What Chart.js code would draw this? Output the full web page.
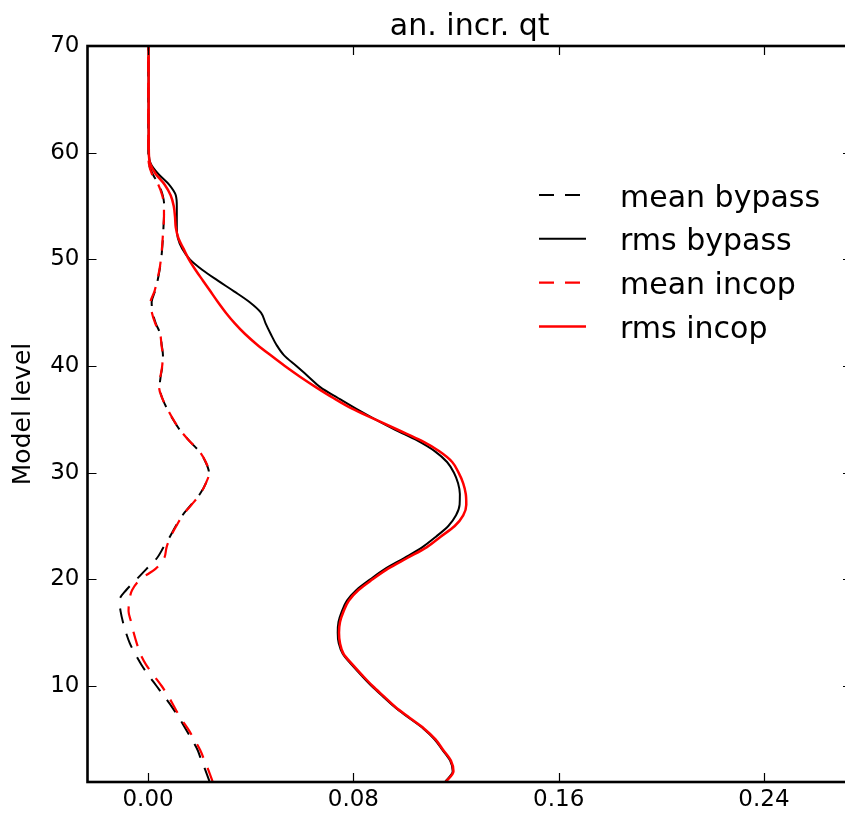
<!DOCTYPE html>
<html>
<head>
<meta charset="utf-8">
<title>an. incr. qt</title>
<script src="https://cdn.jsdelivr.net/npm/chart.js@4.4.1/dist/chart.umd.min.js"></script>
<style>
  html, body { margin: 0; padding: 0; background: #fff; overflow: hidden; }
  canvas { display: block; }
</style>
</head>
<body>
<canvas id="chart" width="862" height="816"></canvas>
<script>
// ================================
// DATA
// ================================

const chartTitle = 'an. incr. qt';
const yAxisTitle = 'Model level';
const seriesLabels = ['mean bypass', 'rms bypass', 'mean incop', 'rms incop'];

const levels = [
  1, 2, 3, 4, 5, 6, 7, 8, 9, 10,
  11, 12, 13, 14, 15, 16, 17, 18, 19, 20,
  21, 22, 23, 24, 25, 26, 27, 28, 29, 30,
  31, 32, 33, 34, 35, 36, 37, 38, 39, 40,
  41, 42, 43, 44, 45, 46, 47, 48, 49, 50,
  51, 52, 53, 54, 55, 56, 57, 58, 59, 60,
  65, 70
];

const meanBypass = [
  0.0240, 0.0225, 0.0208, 0.0193, 0.0170, 0.0146, 0.0121, 0.0094, 0.0064, 0.0033,
  0.0002, -0.0026, -0.0050, -0.0071, -0.0086, -0.0098, -0.0107, -0.0112, -0.0085, -0.0045,
  -0.0005, 0.0035, 0.0060, 0.0085, 0.0108, 0.0134, 0.0168, 0.0202, 0.0225, 0.0237,
  0.0224, 0.0199, 0.0160, 0.0124, 0.0097, 0.0074, 0.0055, 0.0045, 0.0049, 0.0056,
  0.0058, 0.0053, 0.0048, 0.0030, 0.0018, 0.0014, 0.0027, 0.0037, 0.0045, 0.0051,
  0.0055, 0.0058, 0.0060, 0.0062, 0.0063, 0.0057, 0.0042, 0.0018, 0.0003, 0.0001,
  0.0001, 0.0001
];

const rmsBypass = [
  0.1157, 0.1187, 0.1177, 0.1147, 0.1116, 0.1073, 0.1017, 0.0962, 0.0916, 0.0871,
  0.0831, 0.0793, 0.0759, 0.0743, 0.0739, 0.0742, 0.0755, 0.0775, 0.0812, 0.0866,
  0.0925, 0.0998, 0.1068, 0.1122, 0.1170, 0.1200, 0.1214, 0.1215, 0.1208, 0.1192,
  0.1165, 0.1118, 0.1050, 0.0965, 0.0885, 0.0810, 0.0740, 0.0672, 0.0625, 0.0578,
  0.0530, 0.0500, 0.0478, 0.0458, 0.0440, 0.0395, 0.0335, 0.0272, 0.0212, 0.0163,
  0.0133, 0.0116, 0.0112, 0.0112, 0.0112, 0.0108, 0.0082, 0.0040, 0.0010, 0.0003,
  0.0002, 0.0002
];

const meanIncop = [
  0.0252, 0.0237, 0.0220, 0.0203, 0.0180, 0.0155, 0.0127, 0.0103, 0.0080, 0.0053,
  0.0022, -0.0008, -0.0030, -0.0044, -0.0056, -0.0066, -0.0076, -0.0073, -0.0062, -0.0030,
  0.0030, 0.0063, 0.0072, 0.0088, 0.0110, 0.0135, 0.0170, 0.0203, 0.0225, 0.0238,
  0.0225, 0.0200, 0.0160, 0.0125, 0.0098, 0.0075, 0.0055, 0.0043, 0.0048, 0.0055,
  0.0057, 0.0052, 0.0047, 0.0028, 0.0015, 0.0010, 0.0025, 0.0035, 0.0044, 0.0050,
  0.0054, 0.0057, 0.0060, 0.0062, 0.0062, 0.0055, 0.0040, 0.0015, 0.0003, 0.0001,
  0.0001, 0.0001
];

const rmsIncop = [
  0.1160, 0.1190, 0.1180, 0.1150, 0.1120, 0.1076, 0.1020, 0.0965, 0.0920, 0.0875,
  0.0835, 0.0797, 0.0762, 0.0748, 0.0744, 0.0748, 0.0762, 0.0782, 0.0820, 0.0875,
  0.0935, 0.1010, 0.1085, 0.1140, 0.1195, 0.1228, 0.1240, 0.1238, 0.1228, 0.1210,
  0.1185, 0.1135, 0.1065, 0.0975, 0.0885, 0.0795, 0.0722, 0.0655, 0.0592, 0.0533,
  0.0478, 0.0425, 0.0378, 0.0338, 0.0303, 0.0272, 0.0243, 0.0214, 0.0185, 0.0159,
  0.0138, 0.0118, 0.0108, 0.0105, 0.0100, 0.0088, 0.0065, 0.0030, 0.0008, 0.0003,
  0.0002, 0.0002
];

const xTicks = [0, 0.08, 0.16, 0.24];
const yTicks = [10, 20, 30, 40, 50, 60, 70];

// ================================
// HELPERS
// ================================

const FONT = "'DejaVu Sans', 'Liberation Sans', sans-serif";

function profile(values) {
    return levels.map((lv, i) => ({ x: values[i], y: lv }));
}

// matplotlib-like frame, inward ticks, title and legend
const axesDecor = {
    id: 'axesDecor',
    afterDraw(chart) {
        const { ctx, chartArea: a, scales } = chart;
        const tickLen = 9;

        ctx.save();
        ctx.strokeStyle = '#000';

        // tick marks on all four sides
        ctx.lineWidth = 1.2;
        ctx.beginPath();
        xTicks.forEach(v => {
            const px = Math.round(scales.x.getPixelForValue(v)) + 0.5;
            ctx.moveTo(px, a.bottom); ctx.lineTo(px, a.bottom - tickLen);
            ctx.moveTo(px, a.top); ctx.lineTo(px, a.top + tickLen);
        });
        yTicks.forEach(v => {
            const py = Math.round(scales.y.getPixelForValue(v)) + 0.5;
            ctx.moveTo(a.left, py); ctx.lineTo(a.left + tickLen, py);
            ctx.moveTo(a.right, py); ctx.lineTo(a.right - tickLen, py);
        });
        ctx.stroke();

        // frame
        ctx.lineWidth = 2.6;
        ctx.strokeRect(a.left, a.top, a.right - a.left, a.bottom - a.top);

        // title, centred over the axes
        ctx.fillStyle = '#000';
        ctx.font = `30px ${FONT}`;
        ctx.textAlign = 'center';
        ctx.textBaseline = 'alphabetic';
        ctx.fillText(chartTitle, (a.left + a.right) / 2, 35);

        // legend inside the axes
        const lineX0 = 539, lineX1 = 586, textX = 620;
        const baseY = 206.5, rowStep = 43.8;
        ctx.textAlign = 'left';
        ctx.font = `30px ${FONT}`;
        chart.data.datasets.forEach((ds, i) => {
            const yText = baseY + i * rowStep;
            const yLine = yText - 11.5;
            ctx.strokeStyle = ds.borderColor;
            ctx.lineWidth = ds.borderWidth;
            ctx.setLineDash(ds.borderDash || []);
            ctx.beginPath();
            ctx.moveTo(lineX0, yLine);
            ctx.lineTo(lineX1, yLine);
            ctx.stroke();
            ctx.setLineDash([]);
            ctx.fillStyle = '#000';
            ctx.fillText(ds.label, textX, yText);
        });

        ctx.restore();
    }
};

// ================================
// CHART
// ================================

const dash = [15, 11];

new Chart(document.getElementById('chart'), {
    type: 'line',
    data: {
        datasets: [
            {
                label: seriesLabels[0],
                data: profile(meanBypass),
                borderColor: '#000000',
                borderWidth: 2.0,
                borderDash: dash,
                order: 4
            },
            {
                label: seriesLabels[1],
                data: profile(rmsBypass),
                borderColor: '#000000',
                borderWidth: 2.0,
                order: 3
            },
            {
                label: seriesLabels[2],
                data: profile(meanIncop),
                borderColor: '#ff0000',
                borderWidth: 2.2,
                borderDash: dash,
                order: 2
            },
            {
                label: seriesLabels[3],
                data: profile(rmsIncop),
                borderColor: '#ff0000',
                borderWidth: 2.5,
                order: 1
            }
        ]
    },
    options: {
        responsive: false,
        animation: false,
        indexAxis: 'y',
        layout: {
            padding: { top: 46, right: 10, bottom: 0, left: 0 }
        },
        elements: {
            point: { radius: 0 },
            line: { cubicInterpolationMode: 'monotone', fill: false }
        },
        plugins: {
            legend: { display: false },
            tooltip: { enabled: false },
            title: { display: false }
        },
        scales: {
            x: {
                type: 'linear',
                position: 'bottom',
                min: -0.0236,
                max: 0.2743,
                grid: { display: false, drawTicks: false },
                border: { display: false },
                afterBuildTicks: scale => {
                    scale.ticks = xTicks.map(v => ({ value: v }));
                },
                afterFit: scale => { scale.height = 34; },
                ticks: {
                    color: '#000',
                    padding: 4,
                    maxRotation: 0,
                    font: { family: FONT, size: 23 },
                    callback: v => Number(v).toFixed(2)
                }
            },
            y: {
                type: 'linear',
                position: 'left',
                min: 1,
                max: 70,
                grid: { display: false, drawTicks: false },
                border: { display: false },
                afterBuildTicks: scale => {
                    scale.ticks = yTicks.map(v => ({ value: v }));
                },
                afterFit: scale => { scale.width = 87.5; },
                title: {
                    display: true,
                    text: yAxisTitle,
                    color: '#000',
                    font: { family: FONT, size: 25 },
                    padding: { top: 8, bottom: 0 }
                },
                ticks: {
                    color: '#000',
                    padding: 8,
                    font: { family: FONT, size: 23 }
                }
            }
        }
    },
    plugins: [axesDecor]
});
</script>
</body>
</html>
